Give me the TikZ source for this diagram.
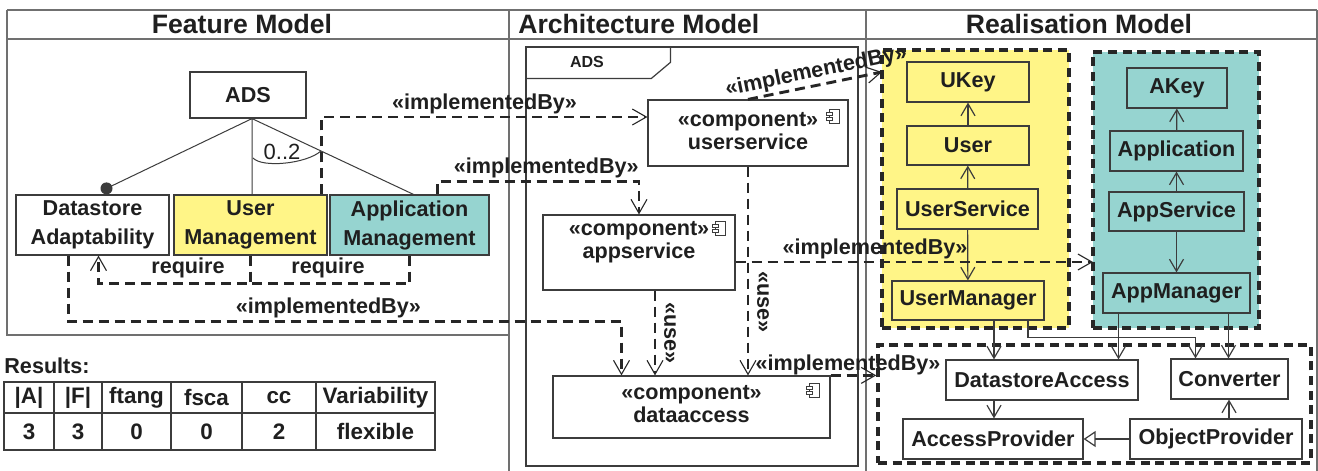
\documentclass[tikz,border=0pt]{standalone}
\usepackage{fontspec}
\setmainfont{Liberation Sans}
\usetikzlibrary{arrows.meta}

\definecolor{umyellow}{HTML}{FFF587}
\definecolor{amteal}{HTML}{96D4D0}
\definecolor{edgegray}{HTML}{3C3C3C}
\definecolor{framegray}{HTML}{707070}

\begin{document}
\begin{tikzpicture}[x=0.5pt, y=-0.5pt,
	every node/.style={text=black!88},
	box/.style={draw=edgegray, line width=0.6pt, align=center, inner sep=0pt, font=\bfseries\fontsize{10.8}{14.5}\selectfont},
	sz/.style 2 args={minimum width=#1*0.5pt, minimum height=#2*0.5pt},
	lbl/.style={inner sep=0pt, align=center, font=\bfseries\fontsize{10.8}{11.5}\selectfont},
	title/.style={inner sep=0pt, font=\bfseries\fontsize{13.3}{16}\selectfont},
	grp/.style={draw=black!85, line width=1.7pt, dash pattern=on 4.5pt off 2.8pt, inner sep=0pt},
	impl/.style={draw=black!85, line width=1.45pt, dash pattern=on 5pt off 3pt, -{Straight Barb[length=7pt, width=8pt, line width=0.55pt]}},
	uses/.style={draw=edgegray, line width=0.6pt, -{Straight Barb[length=6pt, width=7pt]}},
	tree/.style={draw=edgegray, line width=0.5pt},
	frame/.style={draw=framegray, line width=0.75pt},
	compicon/.pic={
		\draw[edgegray, line width=0.45pt, fill=white] (-2pt,-3.3pt) rectangle (3pt,3.3pt);
		\draw[edgegray, line width=0.45pt, fill=white] (-3.5pt,0.6pt) rectangle (-0.5pt,2.2pt) (-3.5pt,-2.2pt) rectangle (-0.5pt,-0.6pt);
	}]
	\useasboundingbox (0,0) rectangle (1318,471);
	\fill[white] (0,0) rectangle (1318,471);

	% the three panels
	\draw[frame] (7,10) -- (1317,10) (7,39) -- (1317,39);
	\draw[frame] (7,10) -- (7,335) -- (509,335);
	\draw[frame] (509,10) -- (509,471) (866,10) -- (866,471) (1317,10) -- (1317,471);
	\node[title] (fmtitle) at (242,24) {Feature Model};
	\node[title, anchor=west] (amtitle) at (518,24) {Architecture Model};
	\node[title] (rmtitle) at (1079,24) {Realisation Model};

	% realisation groups and classes
	\node[grp, fill=umyellow, sz={187}{278}] (ugrp) at (975.5,189) {};
	\node[grp, fill=amteal, sz={166}{276}] (agrp) at (1176,190) {};
	\node[grp, fill=white, sz={433}{118}] (dgrp) at (1094.5,404) {};

	\node[box, sz={122}{40}] (ukey) at (968,82) {UKey};
	\node[box, sz={122}{39}] (user) at (968,145.5) {User};
	\node[box, sz={141}{40}] (usersvc) at (967.5,209) {UserService};
	\node[box, sz={152}{39}] (usermgr) at (968,300.5) {UserManager};
	\node[box, sz={100}{40}] (akey) at (1177,88) {AKey};
	\node[box, sz={133}{40}] (application) at (1176.5,151) {Application};
	\node[box, sz={135}{39}] (appsvc) at (1176.5,211.5) {AppService};
	\node[box, sz={147}{40}] (appmgr) at (1176.5,293) {AppManager};
	\node[box, sz={192}{40}] (dsaccess) at (1042,380) {DatastoreAccess};
	\node[box, sz={117}{40}] (converter) at (1229.5,379) {Converter};
	\node[box, sz={180}{40}] (accprov) at (993,439) {AccessProvider};
	\node[box, sz={172}{40}] (objprov) at (1216,439) {ObjectProvider};

	\foreach \a/\b in {user/ukey, usersvc/user, usersvc/usermgr, application/akey, appsvc/application, appsvc/appmgr}
		\draw[uses] (\a) -- (\b);
	\coordinate (um1) at ([xshift=13pt]usermgr.south);
	\coordinate (um2) at ([xshift=30pt]usermgr.south);
	\coordinate (am1) at ([xshift=-29pt]appmgr.south);
	\coordinate (am2) at ([xshift=26pt]appmgr.south);
	\coordinate (cv1) at ([xshift=-17pt]converter.north);
	\coordinate (ds1) at ([xshift=-24pt]dsaccess.south);
	\coordinate (op1) at ([xshift=6.5pt]objprov.north);
	\draw[uses] (um1) -- (um1 |- dsaccess.north);
	\draw[uses] (um2) -- ++(0,17) -| (cv1);
	\draw[uses] (am1) -- (am1 |- dsaccess.north);
	\draw[uses] (am2) -- (am2 |- converter.north);
	\draw[uses] (ds1) -- (ds1 |- accprov.north);
	\draw[uses] (op1) -- (op1 |- converter.south);
	\draw[edgegray, line width=0.6pt, -{Triangle[open, length=6pt, width=8pt]}] (objprov) -- (accprov);

	% feature tree
	\node[box, sz={116}{46}] (ads) at (248,95) {ADS};
	\node[box, sz={153}{60}] (dsa) at (92.5,225) {Datastore\\Adaptability};
	\node[box, sz={153}{60}, fill=umyellow] (usm) at (250.5,225) {User\\Management};
	\node[box, sz={159}{60}, fill=amteal] (apm) at (409.5,225) {Application\\Management};
	\coordinate (root) at ([xshift=2pt]ads.south);
	\coordinate (mand) at ([xshift=7pt, yshift=3pt]dsa.north);
	\draw[tree] (root) -- (mand) (root) -- (root |- usm.north) (root) -- ([xshift=2pt]apm.north);
	\fill[edgegray] (mand) circle (3pt);
	\draw[tree] (253,158) .. controls (262,168) and (306,164) .. (321,151);
	\node[inner sep=0pt, font=\fontsize{11}{13}\selectfont] (card) at (282,152) {0..2};

	\coordinate (rq) at ([yshift=-14pt]usm.south);
	\draw[impl] (usm.south) -- (rq) -| ([xshift=3pt]dsa.south);
	\draw[impl, -] (apm.south) |- (rq);
	\node[lbl] (req1) at (188,268) {require};
	\node[lbl] (req2) at (328,268) {require};

	% architecture
	\node[draw=edgegray, line width=0.6pt, sz={332}{419}, inner sep=0pt] (pkg) at (692,256.5) {};
	\draw[edgegray, line width=0.6pt] (pkg.north west) ++(0,32) -- ++(126,0) -- ++(19,-16) -- ++(0,-16);
	\node[inner sep=0pt, font=\bfseries\fontsize{8}{10}\selectfont] (pkgname) at (587,62) {ADS};

	\node[box, sz={200}{66}] (userservice) at (748,133) {};
	\node[box, sz={192}{75}] (appservice) at (639,252.5) {};
	\node[box, sz={277}{62}] (dataaccess) at (691.5,407) {};
	\node[lbl] (ustext) at (748,131) {«component»\\userservice};
	\node[lbl] (astext) at (639,242.5) {«component»\\appservice};
	\node[lbl] (datext) at (691.5,404) {«component»\\dataaccess};
	\pic at ([xshift=-7.5pt, yshift=-8.5pt]userservice.north east) {compicon};
	\pic at ([xshift=-8pt, yshift=-7pt]appservice.north east) {compicon};
	\pic at ([xshift=-8.5pt, yshift=-7.5pt]dataaccess.north east) {compicon};

	\coordinate (ua) at ([xshift=8pt]appservice.south);
	\draw[impl] (ua) -- (ua |- dataaccess.north);
	\draw[impl] (userservice.south) -- (userservice.south |- dataaccess.north);
	\node[lbl, rotate=-90] (use1) at (670,333) {«use»};
	\node[lbl, rotate=-90] (use2) at (763,302) {«use»};

	% implementedBy links
	\draw[impl] ([xshift=-3pt]usm.north east) |- node[lbl, pos=0.75, above=1pt] (ib1) {«implementedBy»} ([yshift=8pt]userservice.west);
	\coordinate (ap1) at ([xshift=14pt]apm.north);
	\draw[impl] (ap1) -- ++(0,-13) -| node[lbl, pos=0.27, above=1pt] (ib2) {«implementedBy»} (appservice.north);
	\coordinate (dd1) at ([xshift=-12pt]dsa.south);
	\coordinate (dd2) at ([xshift=-35pt]dataaccess.north);
	\draw[impl] (dd1) -- ++(0,66) -| node[lbl, pos=0.235, above=1pt] (ib3) {«implementedBy»} (dd2);
	\coordinate (ugin) at (882,72);
	\draw[impl] (userservice.north) -- node[lbl, sloped, above=1pt, pos=0.53] (ib4) {«implementedBy»} (ugin);
	\coordinate (agin) at (1093,262);
	\draw[impl] (appservice.east |- agin) -- node[lbl, pos=0.39, above=1pt] (ib5) {«implementedBy»} (agin);
	\draw[impl] (dataaccess.north east) -- (dgrp.west |- dataaccess.north east);
	\node[lbl] (ib6) at (848,365) {«implementedBy»};

	% results table
	\node[anchor=west, inner sep=0pt, font=\bfseries\fontsize{10.8}{13}\selectfont] (results) at (4,366) {Results:};
	\foreach \xa/\xb/\hd/\val [count=\i] in {4/54/{|A|}/3, 54/102/{|F|}/3, 102/171/ftang/0, 171/242/fsca/0, 242/316/cc/2, 316/435/Variability/flexible}{
		\draw[edgegray, line width=0.6pt] (\xa,382) rectangle (\xb,413) (\xa,413) rectangle (\xb,450);
		\node[lbl, font=\bfseries\fontsize{11.2}{13}\selectfont] (hd\i) at ({(\xa+\xb)/2},397.5) {\hd};
		\node[lbl, font=\bfseries\fontsize{11.2}{13}\selectfont] (val\i) at ({(\xa+\xb)/2},431.5) {\val};
	}
\end{tikzpicture}
\end{document}
